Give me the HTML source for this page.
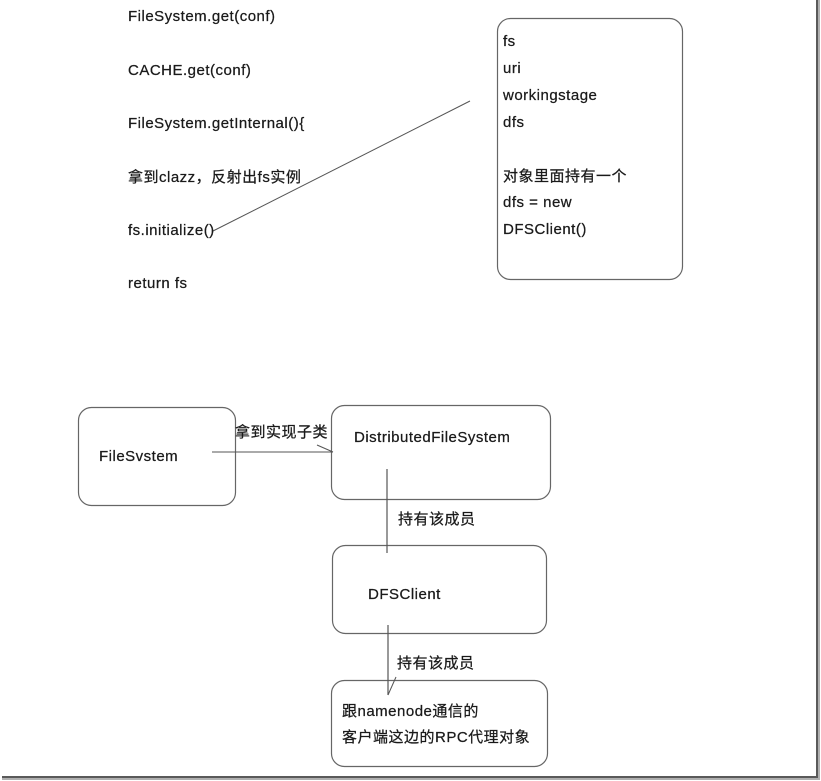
<!DOCTYPE html>
<html>
<head>
<meta charset="utf-8">
<style>
  html, body { margin:0; padding:0; background:#fff; }
  body { width:821px; height:781px; position:relative; overflow:hidden;
         font-family:"Liberation Sans","Noto Sans CJK SC",sans-serif; }
  .t { position:absolute; font-size:15px; line-height:20px; color:#1a1a1a;
       letter-spacing:0.5px; white-space:nowrap; -webkit-text-stroke:0.25px #1a1a1a; }
  svg { position:absolute; left:0; top:0; }
</style>
</head>
<body>
<svg width="821" height="781" viewBox="0 0 821 781">
  <!-- page shadow border -->
  <rect x="816" y="0" width="2" height="778" fill="#5a5a5a"/>
  <rect x="818" y="0" width="2" height="780" fill="#b0b0b0"/>
  <rect x="2" y="776" width="816" height="2" fill="#5a5a5a"/>
  <rect x="2" y="778" width="818" height="2" fill="#b0b0b0"/>

  <!-- top right box -->
  <rect x="497.5" y="18.5" width="185" height="261" rx="13" ry="13" fill="none" stroke="#666" stroke-width="1.2"/>
  <!-- diagonal connector -->
  <line x1="470" y1="101" x2="213" y2="231" stroke="#555" stroke-width="1"/>

  <!-- FileSvstem box -->
  <rect x="78.5" y="407.5" width="157" height="98" rx="13" ry="13" fill="none" stroke="#666" stroke-width="1.2"/>
  <!-- DistributedFileSystem box -->
  <rect x="331.5" y="405.5" width="219" height="94" rx="13" ry="13" fill="none" stroke="#666" stroke-width="1.2"/>
  <!-- DFSClient box -->
  <rect x="332.5" y="545.5" width="214" height="88" rx="13" ry="13" fill="none" stroke="#666" stroke-width="1.2"/>
  <!-- bottom box -->
  <rect x="331.5" y="680.5" width="216" height="86" rx="13" ry="13" fill="none" stroke="#666" stroke-width="1.2"/>

  <!-- connectors -->
  <line x1="212" y1="452" x2="333" y2="452" stroke="#555" stroke-width="1"/>
  <line x1="317" y1="445" x2="333" y2="452" stroke="#555" stroke-width="1"/>
  <line x1="387" y1="469" x2="387" y2="553" stroke="#555" stroke-width="1.2"/>
  <line x1="388" y1="625" x2="388" y2="695" stroke="#555" stroke-width="1.2"/>
  <line x1="388" y1="695" x2="396" y2="677" stroke="#555" stroke-width="1"/>
</svg>

<!-- top code text -->
<div class="t" style="left:128px;top:7px;">FileSystem.get(conf)</div>
<div class="t" style="left:128px;top:61px;">CACHE.get(conf)</div>
<div class="t" style="left:128px;top:114px;">FileSystem.getInternal(){</div>
<div class="t" style="left:128px;top:168px;">拿到clazz，反射出fs实例</div>
<div class="t" style="left:128px;top:221px;">fs.initialize()</div>
<div class="t" style="left:128px;top:274px;">return fs</div>

<!-- right box text -->
<div class="t" style="left:503px;top:32px;">fs</div>
<div class="t" style="left:503px;top:59px;">uri</div>
<div class="t" style="left:503px;top:86px;">workingstage</div>
<div class="t" style="left:503px;top:113px;">dfs</div>
<div class="t" style="left:503px;top:167px;">对象里面持有一个</div>
<div class="t" style="left:503px;top:193px;">dfs = new</div>
<div class="t" style="left:503px;top:220px;">DFSClient()</div>

<!-- bottom diagram text -->
<div class="t" style="left:99px;top:447px;">FileSvstem</div>
<div class="t" style="left:235px;top:423px;">拿到实现子类</div>
<div class="t" style="left:354px;top:428px;">DistributedFileSystem</div>
<div class="t" style="left:398px;top:510px;">持有该成员</div>
<div class="t" style="left:368px;top:585px;">DFSClient</div>
<div class="t" style="left:397px;top:654px;">持有该成员</div>
<div class="t" style="left:342px;top:702px;">跟namenode通信的</div>
<div class="t" style="left:342px;top:728px;">客户端这边的RPC代理对象</div>
</body>
</html>
